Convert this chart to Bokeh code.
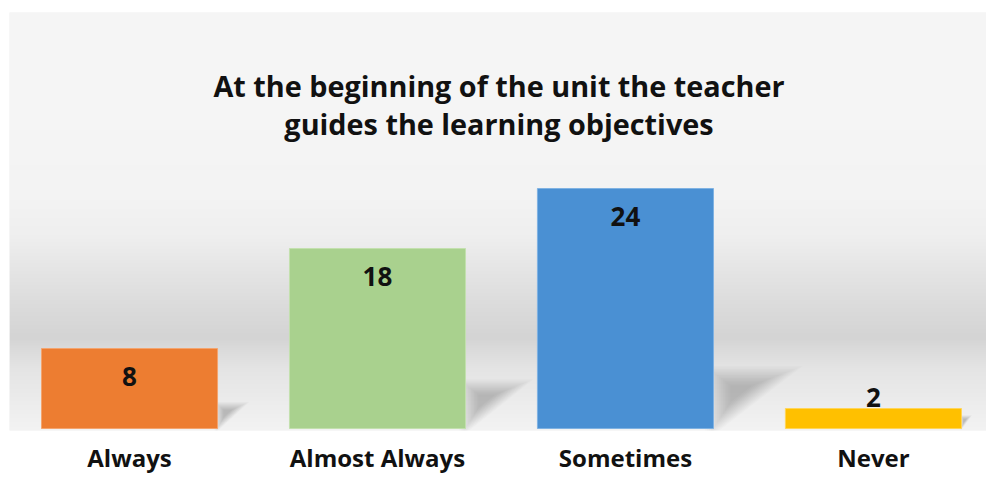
import numpy as np
from bokeh.plotting import figure
from bokeh.models import Range1d, Label, FixedTicker
from bokeh.embed import file_html
from bokeh.resources import INLINE
from bokeh.core.properties import value

# ---- data ----
categories = ["Always", "Almost Always", "Sometimes", "Never"]
counts = [8, 18, 24, 2]
bar_colors = ["#ED7D31", "#A9D18E", "#4A90D3", "#FFC000"]
bar_edges = ["#F4A46E", "#C3E0AE", "#7FB2E2", "#FFD558"]
title_lines = ["At the beginning of the unit the teacher",
               "guides the learning objectives"]

xs = list(range(len(categories)))
BAR_W = 0.71
X0, X1 = -0.484, 3.456
Y0, Y1 = -0.2, 41.6
FONT = "Open Sans"

p = figure(width=986, height=484,
           x_range=Range1d(X0, X1), y_range=Range1d(Y0, Y1),
           output_backend="svg", toolbar_location=None,
           y_axis_location=None,
           min_border_left=9, min_border_right=0,
           min_border_top=12, min_border_bottom=54)
p.grid.visible = False
p.outline_line_color = None
p.border_fill_color = "white"
p.background_fill_color = "#f2f2f2"

# ---- background gradient (decoration) ----
n_rows = 418
stops_y = [12, 130, 200, 235, 267, 300, 337, 347, 367, 400, 430]
stops_v = [245, 245, 243, 239, 230, 221, 212, 218, 228, 236, 243]
ys = 12 + np.arange(n_rows) + 0.5
g = np.interp(ys, stops_y, stops_v).astype(np.uint8)[::-1]
img = np.empty((n_rows, 2), dtype=np.uint32)
view = img.view(dtype=np.uint8).reshape((n_rows, 2, 4))
for k in range(3):
    view[:, :, k] = g[:, None]
view[:, :, 3] = 255
p.image_rgba(image=[img], x=X0, y=Y0, dw=X1 - X0, dh=Y1 - Y0)

# ---- soft shadows derived from the bars ----
for xi, v in zip(xs, counts):
    xr = xi + BAR_W / 2
    hd = 0.2 * v + 0.8
    ld = (2.9 * v + 3) / 248.0
    px = np.array([xr, xr, xr + ld])
    py = np.array([0.0, hd, hd])
    cx, cy = px.mean(), py.mean()
    for f in np.linspace(1.35, 0.3, 14):
        p.patch(cx + f * (px - cx), cy + f * (py - cy),
                fill_color="black", fill_alpha=0.016, line_color=None)

# ---- bars ----
p.vbar(x=xs, top=counts, bottom=0, width=BAR_W,
       fill_color=bar_colors, line_color=bar_edges, line_width=1)

# ---- value labels ----
label_y = [c - 2.8 if c >= 5 else c + 1.1 for c in counts]
p.text(x=xs, y=label_y, text=[str(c) for c in counts],
       text_align="center", text_baseline="middle",
       text_font=value(FONT), text_font_style="bold",
       text_font_size="26px", text_color="#111111")

# ---- title ----
for txt, yc in zip(title_lines, [34.3, 30.5]):
    p.add_layout(Label(x=1.49, y=yc, text=txt, text_align="center",
                       text_baseline="middle", text_font=FONT,
                       text_font_style="bold", text_font_size="28.8px",
                       text_color="#111111"))

# ---- category axis ----
ax = p.xaxis[0]
ax.ticker = FixedTicker(ticks=xs)
ax.major_label_overrides = {i: c for i, c in zip(xs, categories)}
ax.axis_line_color = None
ax.major_tick_line_color = None
ax.minor_tick_line_color = None
ax.major_tick_out = 0
ax.major_tick_in = 0
ax.major_label_standoff = 10
ax.major_label_text_font = FONT
ax.major_label_text_font_style = "bold"
ax.major_label_text_font_size = "24px"
ax.major_label_text_color = "#111111"

open("out.html", "w").write(file_html(p, INLINE))
